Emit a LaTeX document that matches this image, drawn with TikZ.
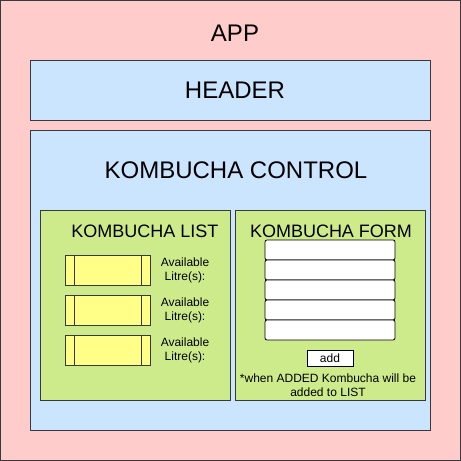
\documentclass[tikz,border=0pt]{standalone}
\usepackage{fontspec}
\setmainfont{Liberation Sans}
\definecolor{appfill}{HTML}{FFCCCC}
\definecolor{bluefill}{HTML}{CCE5FF}
\definecolor{greenfill}{HTML}{CDEB8B}
\definecolor{yellowfill}{HTML}{FFFF88}
\definecolor{edge}{HTML}{36393D}
\newcommand{\fs}[2]{\fontsize{#1}{#2}\selectfont}
\begin{document}
\begin{tikzpicture}[x=1pt,y=-1pt,
  panel/.style={draw=edge,line width=1pt},
  field/.style={draw=black,fill=white,line width=0.8pt,rounded corners=2pt},
  item/.style={draw=edge,fill=yellowfill,line width=1pt},
  big/.style={font=\fs{24}{24}},
  mid/.style={font=\fs{18}{18}},
  small/.style={font=\fs{12}{14},align=center}]
\useasboundingbox (0,0) rectangle (461,461);
% outer application frame
\draw[panel,fill=appfill] (0.5,0.5) rectangle (460.5,460.5);
\node[big] (app) at (235,33) {APP};
% header
\draw[panel,fill=bluefill] (30,60) rectangle (430,120);
\node[big] (header) at (235,90) {HEADER};
% control container
\draw[panel,fill=bluefill] (30,130) rectangle (430,430);
\node[big] (control) at (236,170) {KOMBUCHA CONTROL};
% list panel
\draw[panel,fill=greenfill] (40,210) rectangle (230,400);
\node[mid] (list) at (145,231) {KOMBUCHA LIST};
\foreach \i/\y in {1/255,2/295,3/335}{
  \draw[item] (65,\y) rectangle (150,\y+30);
  \draw[edge,line width=1pt] (74,\y) -- (74,\y+30) (141,\y) -- (141,\y+30);
  \node[small,inner sep=0pt] (avail\i) at (185,\y+15) {Available\\Litre(s):};
}
% form panel
\draw[panel,fill=greenfill] (235,210) rectangle (425,400);
\node[mid] (form) at (331,231) {KOMBUCHA FORM};
\foreach \i in {0,...,4}{
  \draw[field] (265,240+20*\i) rectangle (395,260+20*\i);
}
\draw[draw=black,fill=white,line width=0.8pt] (307.5,350.5) rectangle (353,366);
\node[font=\fs{12}{14}] (add) at (330,358.5) {add};
\node[small,inner sep=0pt] (note) at (328,385) {*when ADDED Kombucha will be\\added to LIST};
\end{tikzpicture}
\end{document}
